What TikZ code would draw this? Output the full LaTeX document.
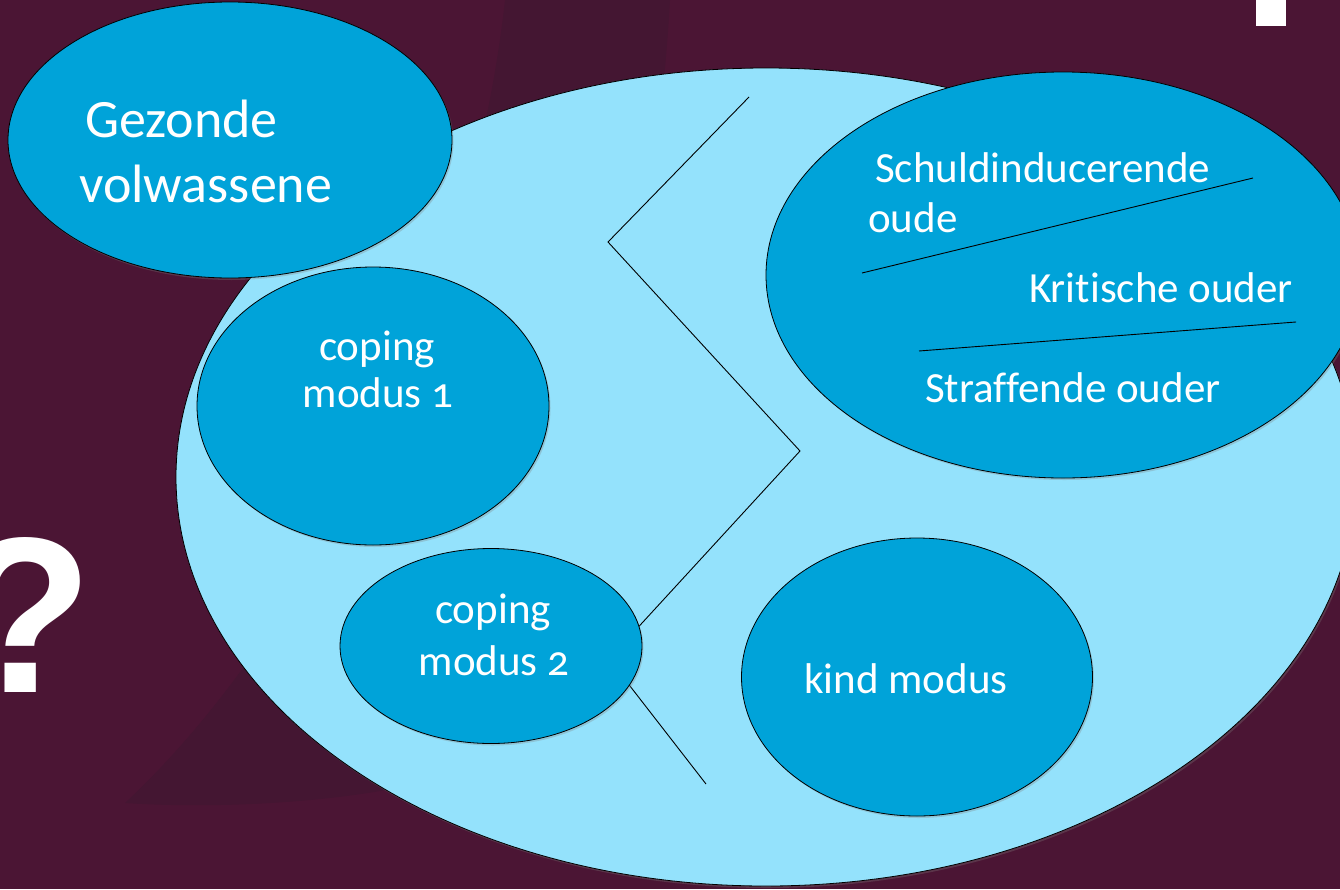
\documentclass[tikz,border=0pt]{standalone}
\usepackage{fontspec}
\setmainfont{Carlito}[Numbers=OldStyle, Ligatures=NoCommon]
\newfontfamily\qmarkfont{Liberation Sans}
\usetikzlibrary{shapes.geometric,shadows}
\definecolor{maroon}{RGB}{75,21,52}
\definecolor{darkmaroon}{RGB}{68,22,50}
\definecolor{skyfill}{RGB}{148,226,252}
\definecolor{modefill}{RGB}{0,163,217}

\begin{document}
\begin{tikzpicture}[x=1pt, y=-1pt,
    mode/.style={ellipse, draw=black, line width=0.8pt, fill=modefill, inner sep=0pt,
        drop shadow={opacity=0.3, shadow xshift=1.5pt, shadow yshift=-2pt}},
    label/.style={text=white, inner sep=0pt, font=\fontsize{43}{47}\selectfont},
    sep/.style={line width=0.9pt, black}]
    % Background
    \useasboundingbox (0,0) rectangle (1340,889);
    \fill [maroon] (0,0) rectangle (1340,889);
    \fill [darkmaroon] (505,0) -- (670,0) .. controls (650,350) and (540,700) .. (386,790)
        .. controls (300,805) and (200,808) .. (125,803) .. controls (300,640) and (470,320) .. (505,0) -- cycle;
    \fill [white] (1256,0) rectangle (1286,26);
    \node [anchor=base east, text=white, inner sep=0pt,
        font=\qmarkfont\bfseries\fontsize{222}{222}\selectfont] (qm) at (93,692) {?};

    % Big schema ellipse
    \node [ellipse, draw=black, line width=0.8pt, fill=skyfill, inner sep=0pt,
        minimum width=1180pt, minimum height=818pt,
        drop shadow={opacity=0.3, shadow xshift=1.5pt, shadow yshift=-2pt}] (schema) at (766,477) {};

    % Zigzag
    \coordinate (za) at (749,97);
    \coordinate (zb) at (608,242);
    \coordinate (zc) at (800,451);
    \coordinate (zd) at (609,659);
    \coordinate (ze) at (706,784);
    \draw [sep] (za) -- (zb) -- (zc) -- (zd) -- (ze);

    % Modes
    \node [mode, minimum width=444pt, minimum height=276pt] (gv) at (230,140) {};
    \node [mode, minimum width=352pt, minimum height=278pt] (cm1) at (373,406) {};
    \node [mode, minimum width=302pt, minimum height=195pt] (cm2) at (491,646) {};
    \node [mode, minimum width=351pt, minimum height=278pt] (km) at (917,677) {};
    \node [mode, minimum width=594pt, minimum height=406pt] (ou) at (1063,275) {};

    % Labels
    \node [label, anchor=base west, font=\fontsize{54}{60}\selectfont] (lgv1) at (85,137) {Gezonde};
    \node [label, anchor=base west, font=\fontsize{54}{60}\selectfont] (lgv2) at (79,202) {volwassene};
    \node [label, anchor=base] (lcm1a) at (377,360) {coping};
    \node [label, anchor=base] (lcm1b) at (378,407) {modus 1};
    \node [label, anchor=base] (lcm2a) at (493,623) {coping};
    \node [label, anchor=base] (lcm2b) at (494,675) {modus 2};
    \node [label, anchor=base] (lkm) at (906,693) {kind modus};
    \node [label, anchor=base west] (lsi1) at (875,182) {Schuldinducerende};
    \node [label, anchor=base west] (lsi2) at (868,232) {oude};
    \node [label, anchor=base west] (lko) at (1029,302) {Kritische ouder};
    \node [label, anchor=base west] (lso) at (925,402) {Straffende ouder};

    % Separators inside the parent ellipse
    \coordinate (sa) at (862,273);
    \coordinate (sb) at (1253,178);
    \coordinate (sc) at (919,351);
    \coordinate (sd) at (1296,322);
    \draw [sep] (sa) -- (sb);
    \draw [sep] (sc) -- (sd);
\end{tikzpicture}
\end{document}
